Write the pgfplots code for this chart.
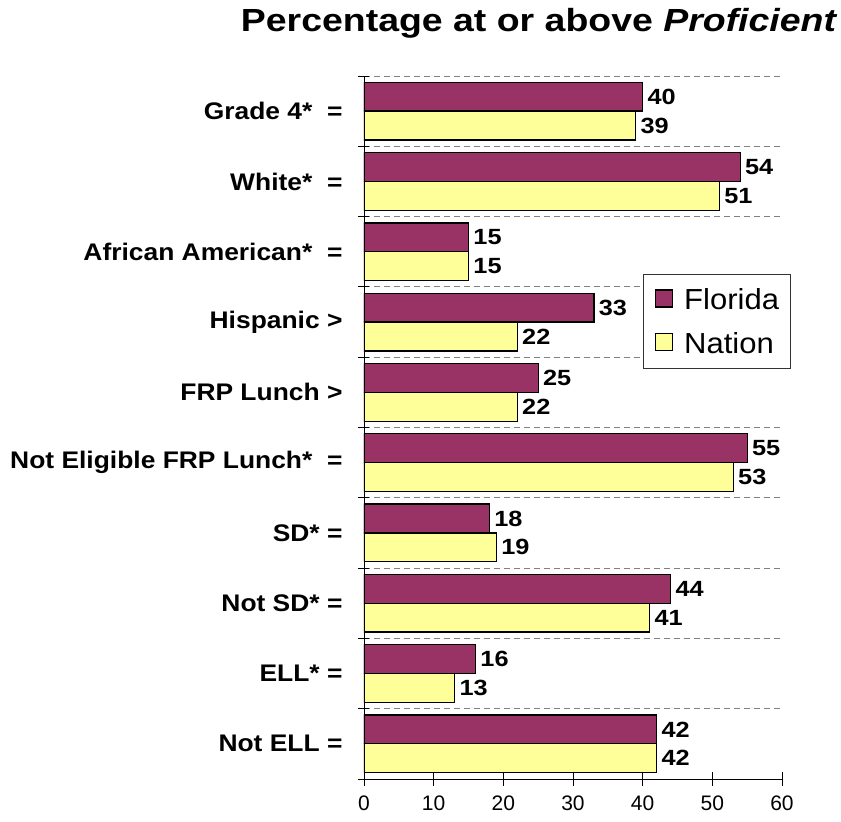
\documentclass[border=0pt]{standalone}
\usepackage{fontspec}
\setmainfont{Liberation Sans}
\newfontfamily\titlefont[FakeStretch=1.17]{Liberation Sans}
\newfontfamily\labelfont[FakeStretch=1.1]{Liberation Sans}
\newfontfamily\valfont[FakeStretch=1.15]{Liberation Sans}
\newfontfamily\legfont[FakeStretch=1.07]{Liberation Sans}
\usepackage{pgfplots}
\pgfplotsset{compat=1.18}
\definecolor{fl}{HTML}{993366}
\definecolor{na}{HTML}{FFFF99}
\begin{document}
\begin{tikzpicture}
\useasboundingbox (-364pt,-43pt) rectangle (477pt,779pt);
\begin{axis}[
  at={(0,0)}, anchor=south west,
  scale only axis, width=418pt, height=703pt,
  xbar, bar width=0.41,
  xmin=0, xmax=60, ymin=-0.5, ymax=9.5,
  xtick={0,10,...,60},
  ytick={0,...,9},
  yticklabels={Not ELL =, ELL* =, Not SD* =, SD* =, Not Eligible FRP Lunch*\ \ =, FRP Lunch >, Hispanic >, African American*\ \ =, White*\ \ =, Grade 4*\ \ =},
  minor ytick={-0.5,0.5,...,9.5},
  ymajorgrids=false, yminorgrids=true,
  minor grid style={gray, line width=0.8pt, dash pattern=on 6pt off 4pt},
  major y tick style={draw=none},
  minor y tick style={black, line width=0.8pt},
  minor tick length=11pt,
  major tick length=14pt,
  tick align=center,
  x tick style={black, line width=0.8pt},
  axis x line*=bottom, axis y line*=left,
  x axis line style={-, line width=0.9pt},
  y axis line style={-, line width=0.9pt},
  /pgf/number format/assume math mode=true,
  xticklabel style={font=\fontsize{21}{25}\selectfont, yshift=-6pt},
  yticklabel style={font=\labelfont\bfseries\fontsize{24}{28}\selectfont, xshift=-11pt},
  title={\bfseries Percentage at or above \textit{Proficient}},
  title style={at={(0.419,1)}, anchor=base, yshift=38pt, font=\titlefont\fontsize{32}{38}\selectfont},
  nodes near coords,
  nodes near coords style={font=\valfont\bfseries\fontsize{22}{26}\selectfont, anchor=west, xshift=1pt},
  legend style={at={(0.667,0.718)}, anchor=north west, draw=black!80, line width=0.8pt,
    font=\legfont\fontsize{29}{34}\selectfont, row sep=15pt, inner xsep=8pt, inner ysep=11pt,
    nodes={inner sep=3pt}},
  legend cell align=left,
  legend image code/.code={\draw[#1, line width=1.3pt] (4pt,-7pt) rectangle (21pt,10pt); \path[draw=none, fill=none] (0pt,0pt) -- (30pt,0pt);},
]
\addplot[fill=fl, draw=black, line width=1.3pt, bar shift=0.205] coordinates {
 (40,9) (54,8) (15,7) (33,6) (25,5) (55,4) (18,3) (44,2) (16,1) (42,0)};
\addplot[fill=na, draw=black, line width=1.3pt, bar shift=-0.205] coordinates {
 (39,9) (51,8) (15,7) (22,6) (22,5) (53,4) (19,3) (41,2) (13,1) (42,0)};
\legend{Florida, Nation}
\end{axis}
\end{tikzpicture}
\end{document}
